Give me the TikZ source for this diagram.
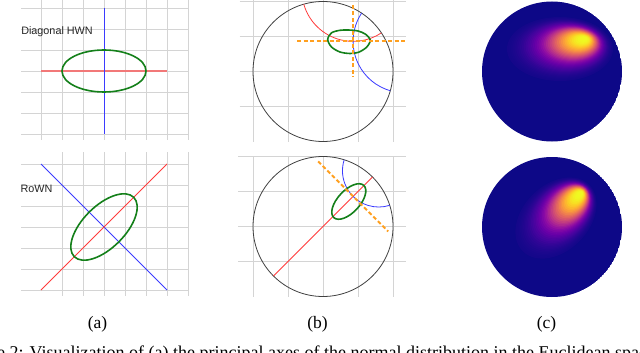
\documentclass[tikz,border=0pt]{standalone}
\usepackage{fontspec}
\setmainfont{Liberation Serif}
\setsansfont{Liberation Sans}
\definecolor{pl0}{HTML}{0D0887}
\definecolor{pl1}{HTML}{41049D}
\definecolor{pl2}{HTML}{6A00A8}
\definecolor{pl3}{HTML}{8F0DA4}
\definecolor{pl4}{HTML}{B12A90}
\definecolor{pl5}{HTML}{CC4778}
\definecolor{pl6}{HTML}{E16462}
\definecolor{pl7}{HTML}{F2844B}
\definecolor{pl8}{HTML}{FCA636}
\definecolor{pl9}{HTML}{FCCE25}
\definecolor{pl10}{HTML}{F0F921}
\definecolor{gridgray}{HTML}{D4D4D4}
\definecolor{axred}{HTML}{FF3B3B}
\definecolor{axredlight}{HTML}{F27878}
\definecolor{axblue}{HTML}{3B3BFF}
\definecolor{ellgreen}{HTML}{14801A}
\definecolor{orng}{HTML}{FFA020}
\begin{document}
\begin{tikzpicture}[x=1pt,y=-1pt,
  gridline/.style={draw=gridgray, line width=0.9pt},
  redax/.style={draw=axred, line width=0.8pt},
  blueax/.style={draw=axblue, line width=0.8pt},
  greenell/.style={draw=ellgreen, line width=1.6pt},
  diskline/.style={draw=black!75, line width=0.8pt},
  tangent/.style={draw=orng, line width=1.9pt, dash pattern=on 4pt off 2.5pt},
  sublabel/.style={font=\fontsize{17.5}{20}\selectfont, inner sep=0pt},
  panellabel/.style={font=\sffamily\fontsize{10.8}{13}\selectfont, text=black!85, inner sep=0pt}]
\useasboundingbox (0,0) rectangle (640,353);
\clip (0,0) rectangle (640,353);
\fill[white] (0,0) rectangle (640,353);

% ---------- (a) top: diagonal ----------
\foreach \x in {41,62,...,188} \draw[gridline] (\x,-4) -- (\x,140);
\foreach \y in {8,29,...,134} \draw[gridline] (21,\y) -- (188,\y);
\coordinate (ta1) at (41,71); \coordinate (ta2) at (167,71);
\coordinate (tb1) at (104,8); \coordinate (tb2) at (104,134);
\draw[draw=axredlight, line width=1.4pt] (ta1) -- (ta2);
\draw[blueax, line width=1pt] (tb1) -- (tb2);
\draw[greenell] (104,71) ellipse [x radius=42, y radius=21];
\node[panellabel] (lbldiag) at (57,32) {Diagonal HWN};

% ---------- (a) bottom: rotated ----------
\foreach \x in {62,83,...,188} \draw[gridline] (\x,152) -- (\x,296);
\foreach \y in {164,185,...,290} \draw[gridline] (21,\y) -- (188,\y);
\coordinate (ba1) at (41,290); \coordinate (ba2) at (167,164);
\coordinate (bb1) at (41,164); \coordinate (bb2) at (167,290);
\draw[blueax] (bb1) -- (bb2);
\draw[redax] (ba1) -- (ba2);
\draw[greenell, rotate around={45:(104,227)}] (104,227) ellipse [x radius=42, y radius=21];
\node[panellabel] (lblrot) at (36.5,189) {RoWN};

% ---------- (b) top ----------
\begin{scope}[shift={(323,71.5)}, x=70pt, y=70pt]
  \foreach \u in {-1,-0.5,0,0.5,1} \draw[gridline] (\u,-1) -- (\u,1.05);
  \foreach \v in {-0.5,0,0.5,1} \draw[gridline] (-1.19,\v) -- (1.19,\v);
  \draw[diskline] (0,0) circle (1);
  \draw[redax] (0.43,1.163) ++(195.95:0.733) arc[start angle=195.95, end angle=303.43, radius=0.733];
  \draw[blueax] (1.163,0.43) ++(146.57:0.733) arc[start angle=146.57, end angle=254.05, radius=0.733];
\end{scope}
\draw[greenell] plot[smooth cycle] coordinates {(327.7,39.5) (331.5,32.8) (340,30.3) (348.5,30) (358,31) (365.5,34.2) (370.3,40.3) (366.5,47.3) (358.5,52.3) (350,53.5) (340,52) (331.5,47)};
\coordinate (th1) at (297,41.2); \coordinate (th2) at (407,41.2);
\coordinate (tv1) at (353.2,5); \coordinate (tv2) at (353.2,77.5);
\draw[tangent] (th1) -- (th2);
\draw[tangent] (tv1) -- (tv2);

% ---------- (b) bottom ----------
\begin{scope}[shift={(323,226.5)}, x=70pt, y=70pt]
  \foreach \u in {-1,-0.5,0,0.5,1} \draw[gridline] (\u,-1) -- (\u,1);
  \foreach \v in {-0.5,0,0.5,1} \draw[gridline] (-1.21,\v) -- (1.19,\v);
  \draw[diskline] (0,0) circle (1);
  \draw[redax] (225:1) -- (45:1);
  \draw[blueax] (0.7964,0.7964) ++(162.4:0.5182) arc[start angle=162.4, end angle=287.6, radius=0.5182];
\end{scope}
\draw[greenell, rotate around={47:(348.8,201.5)}] (348.8,201.5) ellipse [x radius=22, y radius=11];
\begin{scope}[shift={(323,226.5)}, x=70pt, y=70pt]
  \draw[tangent] (-0.07,0.93) -- (0.93,-0.07);
\end{scope}

% ---------- (c) heatmaps ----------
\begin{scope}
  \clip (552,71.5) circle (70);
  \fill[pl0] (552,71.5) circle (70);
  \foreach \k in {0,...,40}{
    \pgfmathsetmacro\s{1-\k/40}
    \pgfmathsetmacro\v{10*exp(-4.2*\s*\s)}
    \pgfmathtruncatemacro\lo{min(floor(\v),9)}
    \pgfmathtruncatemacro\hi{\lo+1}
    \pgfmathtruncatemacro\pct{round(100*(\v-\lo))}
    \colorlet{cur}{pl\hi!\pct!pl\lo}
    \pgfmathsetmacro\cx{584-24*\s}
    \pgfmathsetmacro\cy{39+10*\s}
    \pgfmathsetmacro\rx{3+50*\s}
    \pgfmathsetmacro\ry{2+30*\s}
    \fill[cur] (\cx,\cy) ellipse [x radius=\rx, y radius=\ry];
  }
\end{scope}
\begin{scope}
  \clip (552,227) circle (70);
  \fill[pl0] (552,227) circle (70);
  \foreach \k in {0,...,40}{
    \pgfmathsetmacro\s{1-\k/40}
    \pgfmathsetmacro\v{10*exp(-4.2*\s*\s)}
    \pgfmathtruncatemacro\lo{min(floor(\v),9)}
    \pgfmathtruncatemacro\hi{\lo+1}
    \pgfmathtruncatemacro\pct{round(100*(\v-\lo))}
    \colorlet{cur}{pl\hi!\pct!pl\lo}
    \pgfmathsetmacro\cx{580-24*\s}
    \pgfmathsetmacro\cy{194+24*\s}
    \pgfmathsetmacro\rx{3+44*\s}
    \pgfmathsetmacro\ry{2+31*\s}
    \fill[cur, rotate around={45:(\cx,\cy)}] (\cx,\cy) ellipse [x radius=\rx, y radius=\ry];
  }
\end{scope}

% ---------- sub-captions ----------
\node[sublabel] (capa) at (97.5,324) {(a)};
\node[sublabel] (capb) at (317.5,324) {(b)};
\node[sublabel] (capc) at (546.5,324) {(c)};
\node[anchor=base west, inner sep=0pt, font=\fontsize{18}{21}\selectfont] (figcap) at (-42,358.5)
  {Figure 2: Visualization of (a) the principal axes of the normal distribution in the Euclidean space};
\end{tikzpicture}
\end{document}
